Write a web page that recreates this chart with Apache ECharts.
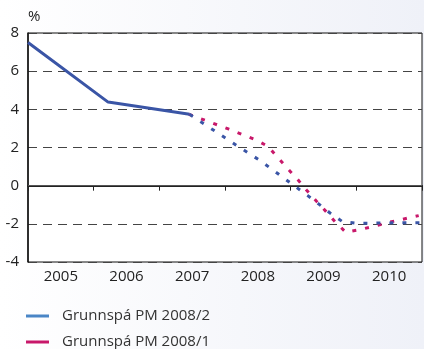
<!DOCTYPE html>
<html>
<head>
<meta charset="utf-8">
<script src="https://cdn.jsdelivr.net/npm/echarts@6/dist/echarts.min.js"></script>
<style>
html,body{margin:0;padding:0;}
#c{width:424px;height:349px;}
</style>
</head>
<body>
<div id="c"></div>
<script>
// Category labels (years)
const years = ['2005', '2006', '2007', '2008', '2009', '2010'];
const yTicks = [-4, -2, 0, 2, 4, 6, 8];

// Series names
const nameNew = 'Grunnspá PM 2008/2';
const nameOld = 'Grunnspá PM 2008/1';

// Outcome (solid blue) – x in fractional years, y in %
const outcomeX = [2005.0, 2006.22, 2007.46];
const outcomeY = [7.5, 4.38, 3.74];

// Forecast PM 2008/2 (dashed blue)
const newX = [2007.46, 2008.18, 2008.55, 2009.08, 2009.26, 2009.43, 2009.60, 2009.79, 2010.0, 2010.5, 2010.97];
const newY = [3.74, 2.10, 1.28, -0.07, -0.52, -0.97, -1.43, -1.89, -1.97, -1.95, -1.94];

// Forecast PM 2008/1 (dashed red)
const oldX = [2007.45, 2008.06, 2008.47, 2008.65, 2008.80, 2008.95, 2009.10, 2009.24, 2009.39, 2009.54, 2009.69, 2009.84, 2010.05, 2010.26, 2010.47, 2010.68, 2010.95];
const oldY = [3.74, 2.96, 2.40, 2.07, 1.49, 0.91, 0.35, -0.23, -0.80, -1.36, -1.94, -2.44, -2.31, -2.13, -1.94, -1.78, -1.57];

const zip = (xs, ys) => xs.map((x, i) => [x, ys[i]]);

const BLUE = '#3a55a6';
const RED = '#c8186a';
const FONT = '"Open Sans", "Noto Sans", sans-serif';

const chart = echarts.init(document.getElementById('c'), null, {renderer: 'canvas'});
chart.setOption({
  animation: false,
  backgroundColor: {
    type: 'linear', x: 0, y: 0, x2: 1, y2: 0,
    colorStops: [{offset: 0, color: '#ffffff'}, {offset: 1, color: '#eff1f8'}]
  },
  textStyle: {fontFamily: FONT},
  grid: {
    left: 28, right: 2, top: 33, bottom: 87,
    show: true, backgroundColor: '#ffffff', borderColor: '#111', borderWidth: 1
  },
  legend: {
    orient: 'vertical', left: 26, top: 308, height: 60, padding: 0, itemGap: 10,
    icon: 'rect', itemWidth: 23, itemHeight: 3,
    textStyle: {fontFamily: FONT, fontSize: 15, color: '#333', lineHeight: 16, padding: [0, 0, 0, 8]},
    data: [
      {name: nameNew, itemStyle: {color: '#4a86c6', borderWidth: 0}, lineStyle: {type: 'solid', width: 0}},
      {name: nameOld, itemStyle: {color: RED, borderWidth: 0}, lineStyle: {type: 'solid', width: 0}}
    ]
  },
  xAxis: [
    {
      type: 'category', data: years, boundaryGap: true, position: 'bottom',
      axisLine: {show: true, lineStyle: {color: '#222', width: 2}},
      axisTick: {show: true, inside: false, length: 5, lineStyle: {color: '#222', width: 1}},
      axisLabel: {color: '#222', fontSize: 15, fontFamily: FONT, margin: 7},
      splitLine: {show: false}
    },
    {
      type: 'value', min: 2005, max: 2011, show: false,
      splitLine: {show: false}
    }
  ],
  yAxis: {
    type: 'value', min: yTicks[0], max: yTicks[yTicks.length - 1], interval: 2,
    name: '%', nameLocation: 'end', nameGap: 9,
    nameTextStyle: {color: '#222', fontSize: 15, fontFamily: FONT, align: 'left', padding: [0, 0, 0, 0]},
    axisLine: {show: true, lineStyle: {color: '#111', width: 1.5}},
    axisTick: {show: false},
    axisLabel: {color: '#222', fontSize: 15, fontFamily: FONT, margin: 9},
    splitLine: {show: true, lineStyle: {color: '#444', width: 1, type: [9, 6]}}
  },
  series: [
    {
      name: nameNew, type: 'line', xAxisIndex: 1, symbol: 'none',
      data: zip(outcomeX, outcomeY),
      lineStyle: {color: BLUE, width: 3},
      itemStyle: {color: BLUE},
      markLine: {
        silent: true, symbol: 'none', label: {show: false},
        lineStyle: {color: '#555', width: 1.2, type: 'solid'},
        data: [{yAxis: 0}]
      },
      z: 5
    },
    {
      name: nameOld, type: 'line', xAxisIndex: 1, symbol: 'none',
      data: zip(oldX, oldY),
      lineStyle: {color: RED, width: 3, type: [4, 9]},
      itemStyle: {color: RED},
      z: 4
    },
    {
      name: nameNew, type: 'line', xAxisIndex: 1, symbol: 'none',
      data: zip(newX, newY),
      lineStyle: {color: BLUE, width: 3, type: [4, 9]},
      itemStyle: {color: BLUE},
      z: 4
    }
  ]
});
</script>
</body>
</html>
